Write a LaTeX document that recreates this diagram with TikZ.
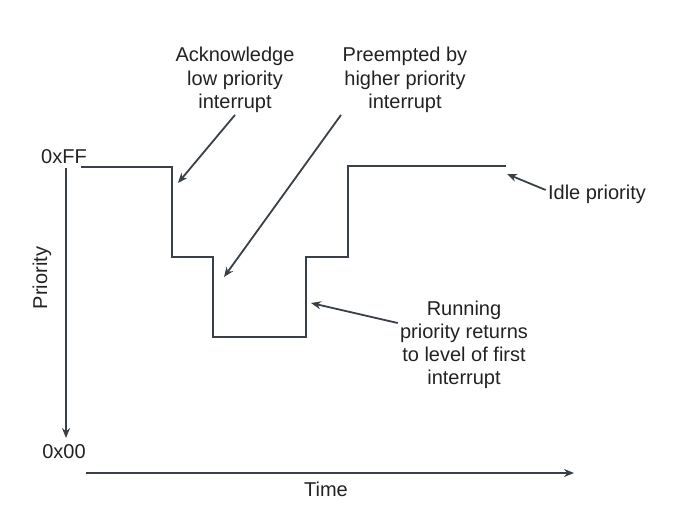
\documentclass[tikz,border=0pt]{standalone}
\usepackage{fontspec}
\setmainfont{Liberation Sans}
\usetikzlibrary{arrows.meta}
\definecolor{linegray}{HTML}{3A4048}
\definecolor{textgray}{HTML}{222222}

\begin{document}
\begin{tikzpicture}[x=0.5pt,y=-0.5pt,
    label text/.style={text=textgray, font=\fontsize{10}{11.6}\selectfont, align=center, inner sep=1pt},
    level line/.style={draw=linegray, line width=1pt},
    pointer/.style={draw=linegray, line width=0.9pt, -{Stealth[length=5pt,width=4pt]}}]
  \useasboundingbox (0,0) rectangle (681,521);
  % axes
  \coordinate (y top) at (66,168);
  \coordinate (y end) at (66,438);
  \coordinate (x start) at (86,473);
  \coordinate (x end) at (574,473);
  \draw[pointer] (y top) -- (y end);
  \draw[pointer] (x start) -- (x end);
  \node[label text] (ff) at (64,157) {0xFF};
  \node[label text] (zero) at (64,452) {0x00};
  \node[label text, rotate=90] (prio) at (42,278) {Priority};
  \node[label text] (time) at (326,489) {Time};
  % priority level
  \draw[level line] (81,167) -- (172,167) coordinate (ack tip) -- (172,257) -- (213,257)
    coordinate (pre tip) -- (213,337) -- (306,337) -- (306,257) coordinate (run tip)
    -- (348,257) -- (348,166) -- (506,166) coordinate (idle tip);
  % labels
  \node[label text] (ack) at (235,80) {Acknowledge\\low priority\\interrupt};
  \node[label text] (pre) at (405,80) {Preempted by\\higher priority\\interrupt};
  \node[label text] (idle) at (597,194) {Idle priority};
  \node[label text] (run) at (464,345) {Running\\priority returns\\to level of first\\interrupt};
  \draw[pointer] (ack.south) -- ([xshift=3pt,yshift=-8pt]ack tip);
  \draw[pointer] ([xshift=-32pt]pre.south) -- ([xshift=5.5pt,yshift=-10pt]pre tip);
  \draw[pointer] ([yshift=2pt]idle.west) -- ([xshift=0.5pt,yshift=-4pt]idle tip);
  \draw[pointer] ([yshift=11pt]run.west) -- ([xshift=2.5pt,yshift=-23pt]run tip);
\end{tikzpicture}
\end{document}
